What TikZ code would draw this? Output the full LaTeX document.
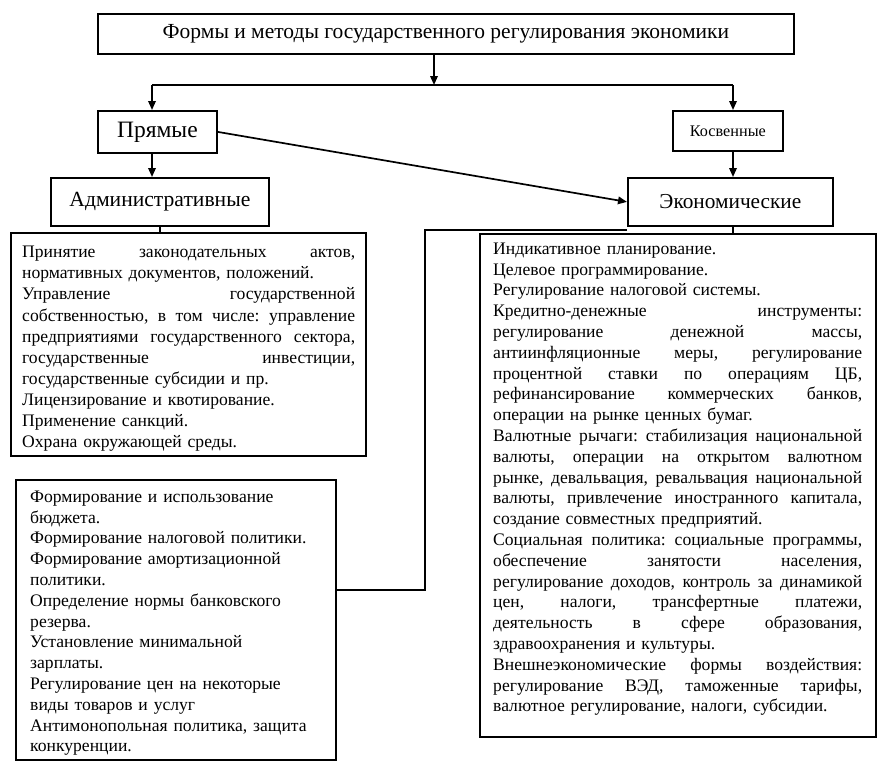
\documentclass[tikz,border=0pt]{standalone}
\usepackage{fontspec}
\setmainfont{Liberation Serif}
\usetikzlibrary{arrows.meta,calc}
\newcommand\jl[1]{\makebox[\hsize][s]{\spaceskip=\fontdimen2\font plus 1fil\relax #1}\\}
\frenchspacing
\begin{document}
\begin{tikzpicture}[x=1pt,y=-1pt,
  box/.style={draw, line width=1.8pt, inner sep=0pt, anchor=north west},
  conn/.style={line width=1.7pt},
  thickconn/.style={line width=2.3pt},
  arr/.style={conn, -{Triangle[length=9pt,width=7.5pt]}},
  txt/.style={anchor=north west, inner sep=0pt, align=left, font=\fontsize{17.6}{20.8}\selectfont},
]
\fill[white] (0,0) rectangle (882,774);
\useasboundingbox (0,0) rectangle (882,774);

\node[box, minimum width=696pt, minimum height=40pt, font=\fontsize{21.5}{24}\selectfont] (title) at (97,13) {Формы и методы государственного регулирования экономики};
\node[box, minimum width=119pt, minimum height=42pt, font=\fontsize{23.5}{26}\selectfont] (pryam) at (97,110) {Прямые};
\node[box, minimum width=110pt, minimum height=40pt, font=\fontsize{16.2}{19}\selectfont] (kosv) at (672,110) {Косвенные};
\node[box, minimum width=218pt, minimum height=48pt, font=\fontsize{21.6}{24}\selectfont] (admin) at (50,177) {Административные};
\node[box, minimum width=205pt, minimum height=48pt, font=\fontsize{21.3}{24}\selectfont] (econ) at (627,177) {Экономические};

\node[box, minimum width=355pt, minimum height=223pt] (box1) at (10,232) {};
\node[box, minimum width=396pt, minimum height=503pt] (box3) at (479,233) {};
\node[box, minimum width=320pt, minimum height=280pt] (box2) at (15,479) {};

\node[txt, text width=333pt, font=\fontsize{17.6}{21.1}\selectfont] (t1) at (22,246) {%
\jl{Принятие законодательных актов,}
нормативных документов, положений.\\
\jl{Управление государственной}
\jl{собственностью, в том числе: управление}
\jl{предприятиями государственного сектора,}
\jl{государственные инвестиции,}
государственные субсидии и пр.\\
Лицензирование и квотирование.\\
Применение санкций.\\
Охрана окружающей среды.};

\node[txt, text width=369pt] (t3) at (493,242.5) {%
Индикативное планирование.\\
Целевое программирование.\\
Регулирование налоговой системы.\\
\jl{Кредитно-денежные инструменты:}
\jl{регулирование денежной массы,}
\jl{антиинфляционные меры, регулирование}
\jl{процентной ставки по операциям ЦБ,}
\jl{рефинансирование коммерческих банков,}
операции на рынке ценных бумаг.\\
\jl{Валютные рычаги: стабилизация национальной}
\jl{валюты, операции на открытом валютном}
\jl{рынке, девальвация, ревальвация национальной}
\jl{валюты, привлечение иностранного капитала,}
создание совместных предприятий.\\
\jl{Социальная политика: социальные программы,}
\jl{обеспечение занятости населения,}
\jl{регулирование доходов, контроль за динамикой}
\jl{цен, налоги, трансфертные платежи,}
\jl{деятельность в сфере образования,}
здравоохранения и культуры.\\
\jl{Внешнеэкономические формы воздействия:}
\jl{регулирование ВЭД, таможенные тарифы,}
валютное регулирование, налоги, субсидии.};

\node[txt, text width=300pt] (t2) at (30,490.5) {%
Формирование и использование\\
бюджета.\\
Формирование налоговой политики.\\
Формирование амортизационной\\
политики.\\
Определение нормы банковского\\
резерва.\\
Установление минимальной\\
зарплаты.\\
Регулирование цен на некоторые\\
виды товаров и услуг\\
Антимонопольная политика, защита\\
конкуренции.};

\coordinate (hmid) at (434,85);
\coordinate (hleft) at (152,85);
\coordinate (hright) at (733,85);
\coordinate (ld) at (425,590);

\draw[arr] (title.south -| hmid) -- (hmid);
\draw[conn] (hleft) -- (hright);
\draw[arr] (hleft) -- (pryam.north -| hleft);
\draw[arr] (hright) -- (kosv.north -| hright);
\draw[arr] (pryam.south -| hleft) -- (admin.north -| hleft);
\draw[arr] (kosv.south -| hright) -- (econ.north -| hright);
\draw[arr] (pryam.east) -- (econ.west);
\draw[conn] (admin.south) -- (admin.south |- box1.north);
\draw[conn] (econ.south -| hright) -- (box3.north -| hright);
\draw[thickconn] ([yshift=-3pt]econ.south west) -| (ld) -- (ld -| box2.east);
\end{tikzpicture}
\end{document}
